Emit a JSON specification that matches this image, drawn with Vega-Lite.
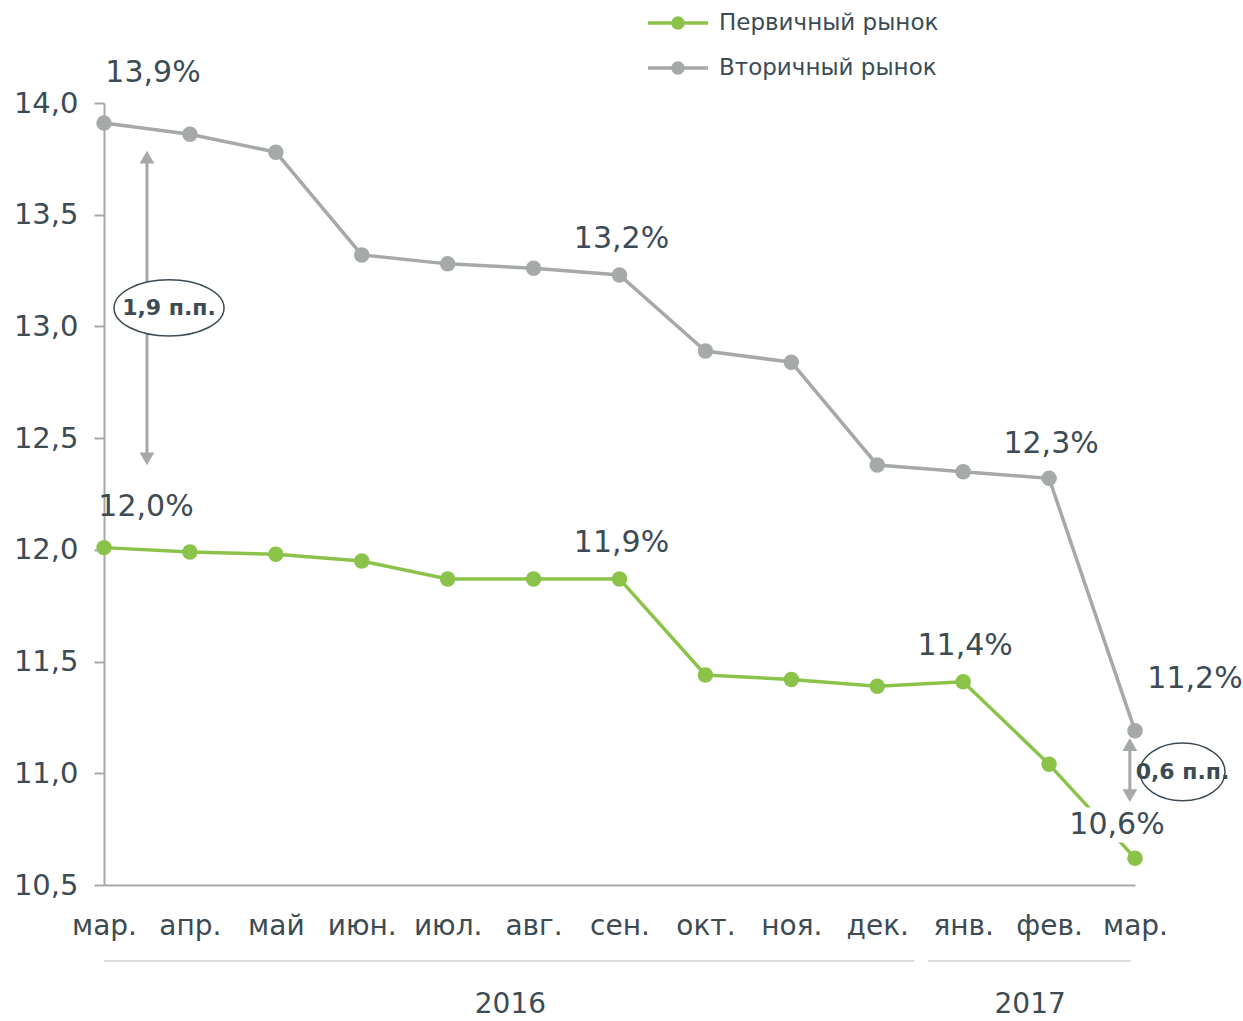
{
  "$schema": "https://vega.github.io/schema/vega-lite/v6.json",
  "autosize": {"type": "none"},
  "width": 1031,
  "height": 782,
  "padding": {"left": 104, "top": 103, "right": 108, "bottom": 136},
  "background": "white",
  "config": {
    "view": {"stroke": null},
    "font": "DejaVu Sans",
    "axis": {"labelFont": "DejaVu Sans", "labelColor": "#3c4b54", "labelFontSize": 28, "grid": false, "domainColor": "#a6a9a9", "domainWidth": 2, "tickColor": "#a6a9a9", "tickWidth": 2, "title": null},
    "legend": {"labelFont": "DejaVu Sans", "labelFontSize": 23, "labelColor": "#3c4b54", "labelLimit": 0}
  },
  "datasets": {
    "series": [
      {"i": 0, "series": "Вторичный рынок", "value": 13.91, "label": "13,9%"},
      {"i": 1, "series": "Вторичный рынок", "value": 13.86, "label": ""},
      {"i": 2, "series": "Вторичный рынок", "value": 13.78, "label": ""},
      {"i": 3, "series": "Вторичный рынок", "value": 13.32, "label": ""},
      {"i": 4, "series": "Вторичный рынок", "value": 13.28, "label": ""},
      {"i": 5, "series": "Вторичный рынок", "value": 13.26, "label": ""},
      {"i": 6, "series": "Вторичный рынок", "value": 13.23, "label": "13,2%"},
      {"i": 7, "series": "Вторичный рынок", "value": 12.89, "label": ""},
      {"i": 8, "series": "Вторичный рынок", "value": 12.84, "label": ""},
      {"i": 9, "series": "Вторичный рынок", "value": 12.38, "label": ""},
      {"i": 10, "series": "Вторичный рынок", "value": 12.35, "label": ""},
      {"i": 11, "series": "Вторичный рынок", "value": 12.32, "label": "12,3%"},
      {"i": 12, "series": "Вторичный рынок", "value": 11.19, "label": "11,2%"},
      {"i": 0, "series": "Первичный рынок", "value": 12.01, "label": "12,0%"},
      {"i": 1, "series": "Первичный рынок", "value": 11.99, "label": ""},
      {"i": 2, "series": "Первичный рынок", "value": 11.98, "label": ""},
      {"i": 3, "series": "Первичный рынок", "value": 11.95, "label": ""},
      {"i": 4, "series": "Первичный рынок", "value": 11.87, "label": ""},
      {"i": 5, "series": "Первичный рынок", "value": 11.87, "label": ""},
      {"i": 6, "series": "Первичный рынок", "value": 11.87, "label": "11,9%"},
      {"i": 7, "series": "Первичный рынок", "value": 11.44, "label": ""},
      {"i": 8, "series": "Первичный рынок", "value": 11.42, "label": ""},
      {"i": 9, "series": "Первичный рынок", "value": 11.39, "label": ""},
      {"i": 10, "series": "Первичный рынок", "value": 11.41, "label": "11,4%"},
      {"i": 11, "series": "Первичный рынок", "value": 11.04, "label": ""},
      {"i": 12, "series": "Первичный рынок", "value": 10.62, "label": "10,6%"}
    ],
    "years": [
      {"year": "2016", "start": 0, "end": 9.43, "mid": 4.73, "lineY": 10.16, "textY": 9.965},
      {"year": "2017", "start": 9.59, "end": 11.95, "mid": 10.78, "lineY": 10.16, "textY": 9.965}
    ],
    "arrows": [
      {"x": 0.5, "top": 13.758, "bottom": 12.407, "ex": 0.757, "ey": 13.083, "text": "1,9 п.п.", "kind": "a"},
      {"x": 11.94, "top": 11.129, "bottom": 10.9, "ex": 12.553, "ey": 11.006, "text": "0,6 п.п.", "kind": "b"}
    ],
    "masks": [
      {"x": 11.79, "y": 10.768}
    ]
  },
  "layer": [
    {
      "data": {"name": "years"},
      "mark": {"type": "rule", "stroke": "#dcdcdc", "strokeWidth": 2},
      "encoding": {
        "x": {"field": "start", "type": "quantitative", "scale": {"domain": [0, 12], "nice": false, "zero": false}},
        "x2": {"field": "end"},
        "y": {"field": "lineY", "type": "quantitative", "scale": {"domain": [10.5, 14], "nice": false, "zero": false}}
      }
    },
    {
      "data": {"name": "years"},
      "mark": {"type": "text", "fontSize": 28, "color": "#3c4b54", "align": "center", "baseline": "middle"},
      "encoding": {
        "x": {"field": "mid", "type": "quantitative"},
        "y": {"field": "textY", "type": "quantitative"},
        "text": {"field": "year"}
      }
    },
    {
      "data": {"name": "arrows"},
      "mark": {"type": "rule", "stroke": "#a6a9a9", "strokeWidth": 3},
      "encoding": {
        "x": {"field": "x", "type": "quantitative"},
        "y": {"field": "top", "type": "quantitative"},
        "y2": {"field": "bottom"}
      }
    },
    {
      "data": {"name": "arrows"},
      "mark": {"type": "point", "shape": "triangle-up", "filled": true, "color": "#a6a9a9", "size": 220, "opacity": 1},
      "encoding": {
        "x": {"field": "x", "type": "quantitative"},
        "y": {"field": "top", "type": "quantitative"}
      }
    },
    {
      "data": {"name": "arrows"},
      "mark": {"type": "point", "shape": "triangle-down", "filled": true, "color": "#a6a9a9", "size": 220, "opacity": 1},
      "encoding": {
        "x": {"field": "x", "type": "quantitative"},
        "y": {"field": "bottom", "type": "quantitative"}
      }
    },
    {
      "data": {"name": "arrows"},
      "transform": [{"filter": "datum.kind == 'a'"}],
      "mark": {"type": "point", "shape": "M-1,0A1,0.51 0 1,1 1,0A1,0.51 0 1,1 -1,0Z", "size": 12100, "filled": false, "fill": "white", "fillOpacity": 1, "stroke": "#3c4b54", "strokeWidth": 1.5, "opacity": 1},
      "encoding": {
        "x": {"field": "ex", "type": "quantitative"},
        "y": {"field": "ey", "type": "quantitative"}
      }
    },
    {
      "data": {"name": "arrows"},
      "transform": [{"filter": "datum.kind == 'b'"}],
      "mark": {"type": "point", "shape": "M-1,0A1,0.68 0 1,1 1,0A1,0.68 0 1,1 -1,0Z", "size": 7225, "filled": false, "fill": "white", "fillOpacity": 1, "stroke": "#3c4b54", "strokeWidth": 1.5, "opacity": 1},
      "encoding": {
        "x": {"field": "ex", "type": "quantitative"},
        "y": {"field": "ey", "type": "quantitative"}
      }
    },
    {
      "data": {"name": "arrows"},
      "mark": {"type": "text", "fontSize": 22, "fontWeight": "bold", "color": "#3c4b54", "align": "center", "baseline": "middle"},
      "encoding": {
        "x": {"field": "ex", "type": "quantitative"},
        "y": {"field": "ey", "type": "quantitative"},
        "text": {"field": "text"}
      }
    },
    {
      "data": {"name": "series"},
      "mark": {"type": "line", "strokeWidth": 3.5},
      "encoding": {
        "x": {"field": "i", "type": "quantitative", "scale": {"domain": [0, 12], "nice": false, "zero": false},
          "axis": {"values": [0,1,2,3,4,5,6,7,8,9,10,11,12], "ticks": false, "labelPadding": 27, "labelBaseline": "top", "labelOverlap": false, "labelFlush": false,
            "labelExpr": "['мар.','апр.','май','июн.','июл.','авг.','сен.','окт.','ноя.','дек.','янв.','фев.','мар.'][datum.value]"}},
        "y": {"field": "value", "type": "quantitative", "scale": {"domain": [10.5, 14], "nice": false, "zero": false},
          "axis": {"values": [10.5, 11, 11.5, 12, 12.5, 13, 13.5, 14], "tickSize": 10, "labelPadding": 16, "labelFontSize": 29, "labelFlush": false, "labelOverlap": false,
            "labelExpr": "replace(format(datum.value, '.1f'), '.', ',')"}},
        "color": {"field": "series", "type": "nominal",
          "scale": {"domain": ["Первичный рынок", "Вторичный рынок"], "range": ["#8bc34a", "#a6a9a9"]},
          "legend": {"orient": "none", "legendX": 552, "legendY": -102, "title": null, "symbolType": "M-1.5,0H1.5M-0.25,0A0.25,0.25 0 1,1 0.25,0A0.25,0.25 0 1,1 -0.25,0Z", "symbolSize": 1600, "symbolStrokeWidth": 3.5, "rowPadding": 11, "labelOffset": 19, "labelLimit": 0}}
      }
    },
    {
      "data": {"name": "masks"},
      "mark": {"type": "point", "shape": "M-1.3,-0.5H1.3V0.5H-1.3Z", "size": 4900, "filled": true, "color": "white", "opacity": 1},
      "encoding": {
        "x": {"field": "x", "type": "quantitative"},
        "y": {"field": "y", "type": "quantitative"}
      }
    },
    {
      "data": {"name": "series"},
      "mark": {"type": "point", "filled": true, "size": 240, "opacity": 1},
      "encoding": {
        "x": {"field": "i", "type": "quantitative"},
        "y": {"field": "value", "type": "quantitative"},
        "color": {"field": "series", "type": "nominal",
          "scale": {"domain": ["Первичный рынок", "Вторичный рынок"], "range": ["#8bc34a", "#a6a9a9"]},
          "legend": {"orient": "none", "legendX": 552, "legendY": -102, "title": null, "symbolType": "M-1.5,0H1.5M-0.25,0A0.25,0.25 0 1,1 0.25,0A0.25,0.25 0 1,1 -0.25,0Z", "symbolSize": 1600, "symbolStrokeWidth": 3.5, "rowPadding": 11, "labelOffset": 19, "labelLimit": 0}}
      }
    },
    {
      "data": {"name": "series"},
      "transform": [{"filter": "indexof(['13,2%','11,9%','11,4%'], datum.label) >= 0"}],
      "mark": {"type": "text", "fontSize": 30, "color": "#3c4b54", "align": "center", "baseline": "middle", "dx": 2, "dy": -36},
      "encoding": {"x": {"field": "i", "type": "quantitative"}, "y": {"field": "value", "type": "quantitative"}, "text": {"field": "label"}}
    },
    {
      "data": {"name": "series"},
      "transform": [{"filter": "datum.label == '12,3%'"}],
      "mark": {"type": "text", "fontSize": 30, "color": "#3c4b54", "align": "center", "baseline": "middle", "dx": 2, "dy": -34},
      "encoding": {"x": {"field": "i", "type": "quantitative"}, "y": {"field": "value", "type": "quantitative"}, "text": {"field": "label"}}
    },
    {
      "data": {"name": "series"},
      "transform": [{"filter": "datum.label == '13,9%'"}],
      "mark": {"type": "text", "fontSize": 30, "color": "#3c4b54", "align": "center", "baseline": "middle", "dx": 49, "dy": -50},
      "encoding": {"x": {"field": "i", "type": "quantitative"}, "y": {"field": "value", "type": "quantitative"}, "text": {"field": "label"}}
    },
    {
      "data": {"name": "series"},
      "transform": [{"filter": "datum.label == '12,0%'"}],
      "mark": {"type": "text", "fontSize": 30, "color": "#3c4b54", "align": "center", "baseline": "middle", "dx": 42, "dy": -41},
      "encoding": {"x": {"field": "i", "type": "quantitative"}, "y": {"field": "value", "type": "quantitative"}, "text": {"field": "label"}}
    },
    {
      "data": {"name": "series"},
      "transform": [{"filter": "datum.label == '11,2%'"}],
      "mark": {"type": "text", "fontSize": 30, "color": "#3c4b54", "align": "center", "baseline": "middle", "dx": 60, "dy": -52},
      "encoding": {"x": {"field": "i", "type": "quantitative"}, "y": {"field": "value", "type": "quantitative"}, "text": {"field": "label"}}
    },
    {
      "data": {"name": "series"},
      "transform": [{"filter": "datum.label == '10,6%'"}],
      "mark": {"type": "text", "fontSize": 30, "color": "#3c4b54", "align": "center", "baseline": "middle", "dx": -18, "dy": -33},
      "encoding": {"x": {"field": "i", "type": "quantitative"}, "y": {"field": "value", "type": "quantitative"}, "text": {"field": "label"}}
    }
  ]
}
